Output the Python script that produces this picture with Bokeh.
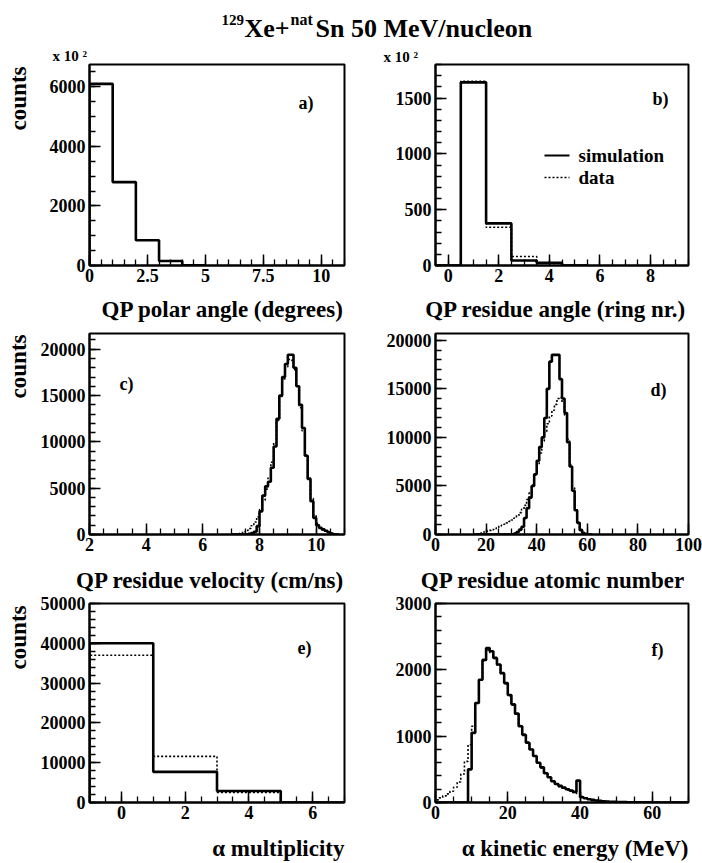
import numpy as np
from bokeh.plotting import figure
from bokeh.layouts import column, row
from bokeh.models import Range1d, FixedTicker, Label, Title
from bokeh.embed import file_html
from bokeh.resources import INLINE

FONT = "Liberation Serif"

# ---------------- data ----------------
# a) QP polar angle (degrees)   (counts x 10^2)
a_edges = [0, 1, 2, 3, 4, 5]
a_sim = [6100, 2800, 850, 150, 10]
a_xticks = [0, 2.5, 5, 7.5, 10]
a_xlabels = ["0", "2.5", "5", "7.5", "10"]
a_yticks = [0, 2000, 4000, 6000]
a_ylabels = ["0", "2000", "4000", "6000"]

# b) QP residue angle (ring nr.)   (counts x 10^2)
b_edges = [-0.5, 0.5, 1.5, 2.5, 3.5, 4.5, 5.5]
b_sim = [0, 1640, 377, 45, 25, 0]
b_data = [0, 1650, 342, 80, 18, 0]
b_xticks = [0, 2, 4, 6, 8]
b_xlabels = ["0", "2", "4", "6", "8"]
b_yticks = [0, 500, 1000, 1500]
b_ylabels = ["0", "500", "1000", "1500"]

# c) QP residue velocity (cm/ns), bins of 0.1 from 7.0 to 10.8
c_lo, c_hi, c_step = 7.0, 10.8, 0.1
c_sim = [0, 0, 0, 0, 0, 30, 80, 150, 300, 900,
         2500, 4200, 5200, 5700, 7200, 9500, 12500, 15000, 17000, 18400,
         19400, 19400, 18000, 16000, 14000, 11500, 8500, 6000, 3600, 1800,
         1000, 700, 550, 400, 250, 100, 30, 0]
c_data = [0, 20, 60, 150, 300, 450, 650, 950, 1350, 1900,
          2700, 3700, 4900, 6100, 7800, 9900, 12300, 14900, 16800, 18100,
          18900, 18800, 17800, 16000, 13700, 11200, 8600, 6100, 3900, 2100,
          1200, 750, 500, 350, 220, 100, 30, 0]
c_xticks = [2, 4, 6, 8, 10]
c_xlabels = ["2", "4", "6", "8", "10"]
cd_yticks = [0, 5000, 10000, 15000, 20000]
cd_ylabels = ["0", "5000", "10000", "15000", "20000"]

# d) QP residue atomic number, unit bins from Z=15 to Z=62
d_lo, d_hi = 15, 62
d_sim = [0, 0, 0, 0, 0, 0, 0, 0, 0, 0,
         0, 0, 0, 0, 0, 0, 100, 250, 500, 800,
         1700, 2700, 3800, 5000, 6200, 7600, 9000, 10000, 12000, 15000,
         17800, 18500, 18500, 18500, 16000, 14000, 12500, 9500, 7000, 4500,
         2500, 1200, 450, 150, 50, 0, 0]
d_data = [50, 80, 120, 180, 250, 350, 420, 500, 600, 700,
          850, 950, 1050, 1200, 1350, 1500, 1700, 1950, 2250, 2600,
          3000, 3600, 4300, 5100, 6100, 7200, 8400, 9600, 10600, 11400,
          12200, 12800, 13400, 14000, 14100, 13600, 12300, 9800, 7200, 4800,
          2700, 1300, 500, 180, 60, 0, 0]
d_xticks = [0, 20, 40, 60, 80, 100]
d_xlabels = ["0", "20", "40", "60", "80", "100"]

# e) alpha multiplicity
e_edges = [-1, 1, 3, 5, 7]
e_sim = [40000, 7700, 2900, 0]
e_data = [37000, 11600, 2500, 0]
e_xticks = [0, 2, 4, 6]
e_xlabels = ["0", "2", "4", "6"]
e_yticks = [0, 10000, 20000, 30000, 40000, 50000]
e_ylabels = ["0", "10000", "20000", "30000", "40000", "50000"]

# f) alpha kinetic energy (MeV), 1 MeV bins from 0 to 70
f_lo, f_hi = 0, 70
f_sim = [0, 0, 0, 0, 0, 0, 0, 0, 0, 500,
         1050, 1500, 1850, 2150, 2330, 2280, 2180, 2080, 1950, 1800,
         1620, 1480, 1340, 1150, 1020, 900, 800, 700, 600, 530,
         440, 380, 320, 280, 250, 225, 200, 180, 160, 330,
         80, 65, 50, 40, 30, 24, 19, 15, 12, 10,
         8, 6, 5, 4, 3, 3, 2, 2, 2, 1,
         1, 1, 1, 0, 0, 0, 0, 0, 0, 0]
f_data = [40, 70, 100, 130, 170, 230, 310, 430, 620, 870,
          1150, 1500, 1850, 2130, 2300, 2260, 2170, 2070, 1940, 1790,
          1610, 1470, 1330, 1160, 1030, 910, 800, 700, 600, 520,
          450, 380, 320, 280, 240, 215, 190, 170, 150, 135,
          95, 70, 52, 40, 30, 24, 19, 15, 12, 9,
          7, 6, 5, 4, 3, 3, 2, 2, 2, 1,
          1, 1, 1, 0, 0, 0, 0, 0, 0, 0]
f_xticks = [0, 20, 40, 60]
f_xlabels = ["0", "20", "40", "60"]
f_yticks = [0, 1000, 2000, 3000]
f_ylabels = ["0", "1000", "2000", "3000"]


# ---------------- helpers ----------------
def step_xy(edges, counts):
    e = np.asarray(edges, dtype=float)
    c = np.asarray(counts, dtype=float)
    xs = np.repeat(e, 2)
    ys = np.concatenate([[0.0], np.repeat(c, 2), [0.0]])
    return xs, ys


def tfont(t, size):
    t.text_font = FONT
    t.text_font_style = "bold"
    t.text_font_size = size
    t.text_color = "black"
    return t


def pix_fig(width, top, height, bt=0, bb=0, x0=0):
    """A text-only figure whose data coordinates are page pixels."""
    f = figure(width=width, height=height,
               x_range=Range1d(x0, x0 + width),
               y_range=Range1d(top + height - bb, top + bt),
               toolbar_location=None, output_backend="svg", title=None,
               min_border_left=0, min_border_right=0,
               min_border_top=bt, min_border_bottom=bb,
               outline_line_color=None,
               x_axis_location=None, y_axis_location=None)
    f.grid.visible = False
    return f


def ptext(f, x, y, txt, size, align="left", angle=0.0):
    f.add_layout(tfont(Label(x=x, y=y, text=txt, angle=angle,
                             text_align=align, text_baseline="middle"), size))


class Panel:
    def __init__(self, fig_left, width, fig_top, fig_h, L, R, T, B, xr, yr):
        self.L, self.R, self.T, self.B = L, R, T, B
        self.xr, self.yr = xr, yr
        self.p = figure(
            width=width, height=fig_h,
            x_range=Range1d(*xr), y_range=Range1d(*yr),
            toolbar_location=None, output_backend="svg", title=None,
            min_border_left=L - fig_left, min_border_right=fig_left + width - R,
            min_border_top=T - fig_top, min_border_bottom=fig_top + fig_h - B,
            background_fill_color="white", border_fill_color="white",
            outline_line_color="black", outline_line_width=2,
        )
        self.p.grid.visible = False

    def dx(self, px):
        x0, x1 = self.xr
        return x0 + (px - self.L) * (x1 - x0) / (self.R - self.L)

    def dy(self, py):
        y0, y1 = self.yr
        return y0 + (self.B - py) * (y1 - y0) / (self.B - self.T)

    def text(self, px, py, txt, size, align="left"):
        self.p.add_layout(tfont(Label(
            x=self.dx(px), y=self.dy(py), text=txt,
            text_align=align, text_baseline="middle"), size))

    def above_title(self, txt, size, offset, standoff):
        self.p.add_layout(tfont(Title(text=txt, align="left", offset=offset,
                                      standoff=standoff), size), "above")

    def axes(self, xt, xl, xminor, yt, yl, yminor):
        p = self.p
        p.xaxis.ticker = FixedTicker(ticks=list(xt), minor_ticks=list(xminor))
        p.yaxis.ticker = FixedTicker(ticks=list(yt), minor_ticks=list(yminor))
        p.xaxis.major_label_overrides = {t: s for t, s in zip(xt, xl)}
        p.yaxis.major_label_overrides = {t: s for t, s in zip(yt, yl)}
        for ax in (p.xaxis[0], p.yaxis[0]):
            ax.axis_line_width = 2
            ax.axis_line_color = "black"
            ax.major_tick_in = 11
            ax.major_tick_out = 0
            ax.minor_tick_in = 6
            ax.minor_tick_out = 0
            ax.major_tick_line_width = 1.5
            ax.minor_tick_line_width = 1.3
            ax.major_tick_line_color = "black"
            ax.minor_tick_line_color = "black"
            ax.major_label_text_font = FONT
            ax.major_label_text_font_style = "bold"
            ax.major_label_text_font_size = "18px"
            ax.major_label_text_color = "black"
        p.xaxis.major_label_standoff = 3
        p.yaxis.major_label_standoff = 4

    def hist(self, edges, counts, dotted=False):
        xs, ys = step_xy(edges, counts)
        if dotted:
            self.p.line(xs, ys, line_color="black", line_width=1.6, line_dash="2 2")
        else:
            self.p.line(xs, ys, line_color="black", line_width=2.6)


def minor(lo, hi, step):
    return list(np.round(np.arange(lo, hi + 1e-9, step), 6))


# ---------------- geometry (page pixels) ----------------
CW = 30                       # width of the "counts" strip
LC1, RC1, LC2, RC2 = 89, 344, 435, 688
TH = 44
R1_TOP, R1_H, R1_T, R1_B = TH, 249, 64, 265
S1_TOP, S1_H = 293, 31
R2_TOP, R2_H, R2_T, R2_B = 324, 238, 333, 534
S2_TOP, S2_H = 562, 31
R3_TOP, R3_H, R3_T, R3_B = 593, 237, 603, 802
S3_TOP, S3_H = 830, 33
XT = "23px"

# ---------------- title ----------------
tp = pix_fig(702, 0, TH)
for x, y, s, size in [(221, 19, "129", "15px"), (244, 28, "Xe+", "26px"),
                      (290, 19, "nat", "16px"), (315, 28, "Sn 50 MeV/nucleon", "26px")]:
    ptext(tp, x, y, s, size)


def counts_fig(top, h, T, B, label_top):
    f = pix_fig(CW, top, h, bt=T - top, bb=top + h - B)
    ptext(f, 18, label_top, "counts", "23px", align="right", angle=np.pi / 2)
    return f


# ---------------- row 1 ----------------
ca = counts_fig(R1_TOP, R1_H, R1_T, R1_B, 66)
pa = Panel(CW, 351 - CW, R1_TOP, R1_H, LC1, RC1, R1_T, R1_B, (0, 11), (0, 6750))
pa.axes(a_xticks, a_xlabels, minor(0, 11, 0.5), a_yticks, a_ylabels, minor(0, 6750, 500))
pa.hist(a_edges, a_sim)
pa.above_title("x 10 \u00b2", "15px", 52 - LC1, 1)
pa.text(298, 102, "a)", "18px")

pb = Panel(351, 351, R1_TOP, R1_H, LC2, RC2, R1_T, R1_B, (-0.5, 9.5), (0, 1800))
pb.axes(b_xticks, b_xlabels, minor(-0.5, 9.5, 0.5), b_yticks, b_ylabels, minor(0, 1800, 100))
pb.hist(b_edges, b_data, dotted=True)
pb.hist(b_edges, b_sim)
pb.above_title("x 10 \u00b2", "15px", 383 - LC2, 0)
pb.text(652, 98, "b)", "18px")
pb.p.line([pb.dx(544), pb.dx(569)], [pb.dy(155), pb.dy(155)], line_color="black", line_width=2)
pb.p.line([pb.dx(544), pb.dx(569)], [pb.dy(177), pb.dy(177)], line_color="black",
          line_width=1.6, line_dash="2 2")
pb.text(578, 155, "simulation", "19px")
pb.text(578, 177, "data", "19px")

s1 = pix_fig(702, S1_TOP, S1_H)
ptext(s1, 344, 309, "QP polar angle (degrees)", XT, align="right")
ptext(s1, 686, 309, "QP residue angle (ring nr.)", XT, align="right")

# ---------------- row 2 ----------------
cc = counts_fig(R2_TOP, R2_H, R2_T, R2_B, 334)
c_edges = np.round(np.arange(c_lo, c_hi + c_step / 2, c_step), 2)
pc = Panel(CW, 351 - CW, R2_TOP, R2_H, LC1, RC1, R2_T, R2_B, (2, 11), (0, 21700))
pc.axes(c_xticks, c_xlabels, minor(2, 11, 0.5), cd_yticks, cd_ylabels, minor(0, 21700, 1000))
pc.hist(c_edges, c_data, dotted=True)
pc.hist(c_edges, c_sim)
pc.text(119, 383, "c)", "18px")

d_edges = np.arange(d_lo, d_hi + 1)
pd_ = Panel(351, 351, R2_TOP, R2_H, LC2, RC2, R2_T, R2_B, (0, 100), (0, 20700))
pd_.axes(d_xticks, d_xlabels, minor(0, 100, 5), cd_yticks, cd_ylabels, minor(0, 20700, 1000))
pd_.hist(d_edges, d_data, dotted=True)
pd_.hist(d_edges, d_sim)
pd_.text(650, 389, "d)", "18px")

s2 = pix_fig(702, S2_TOP, S2_H)
ptext(s2, 344, 580, "QP residue velocity (cm/ns)", XT, align="right")
ptext(s2, 685, 580, "QP residue atomic number", XT, align="right")

# ---------------- row 3 ----------------
ce = counts_fig(R3_TOP, R3_H, R3_T, R3_B, 605)
pe = Panel(CW, 351 - CW, R3_TOP, R3_H, LC1, RC1, R3_T, R3_B, (-1, 7), (0, 50000))
pe.axes(e_xticks, e_xlabels, minor(-1, 7, 0.5), e_yticks, e_ylabels, minor(0, 50000, 2000))
pe.hist(e_edges, e_data, dotted=True)
pe.hist(e_edges, e_sim)
pe.text(297, 647, "e)", "18px")

f_edges = np.arange(f_lo, f_hi + 1)
pf = Panel(351, 351, R3_TOP, R3_H, LC2, RC2, R3_T, R3_B, (0, 70), (0, 3000))
pf.axes(f_xticks, f_xlabels, minor(0, 70, 5), f_yticks, f_ylabels, minor(0, 3000, 200))
pf.hist(f_edges, f_data, dotted=True)
pf.hist(f_edges, f_sim)
pf.text(651, 649, "f)", "18px")

s3 = pix_fig(702, S3_TOP, S3_H)
ptext(s3, 344, 848, "\u03b1 multiplicity", XT, align="right")
ptext(s3, 688, 848, "\u03b1 kinetic energy (MeV)", XT, align="right")

layout = column(tp,
                row(ca, pa.p, pb.p), s1,
                row(cc, pc.p, pd_.p), s2,
                row(ce, pe.p, pf.p), s3)
open("out.html", "w").write(file_html(layout, INLINE))
